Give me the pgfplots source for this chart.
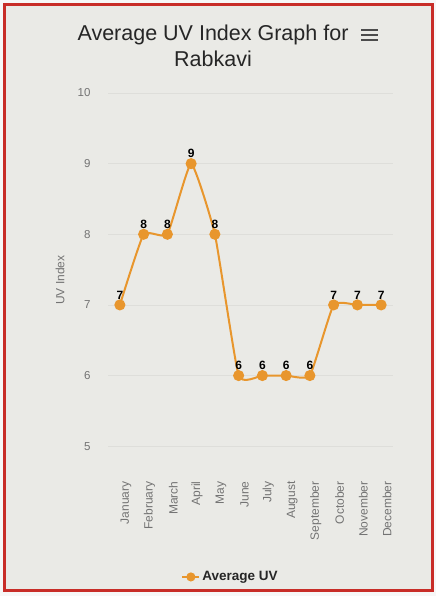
\documentclass[border=0pt]{standalone}
\usepackage{pgfplots}
\pgfplotsset{compat=1.18}
\usepackage{fontspec}
\setmainfont{Liberation Sans}

\definecolor{uvorange}{RGB}{232,150,45}
\definecolor{cardbg}{RGB}{234,234,230}
\definecolor{framered}{RGB}{200,45,40}
\definecolor{ticktext}{RGB}{115,115,115}
\definecolor{gridc}{RGB}{222,222,218}

\begin{document}
\begin{tikzpicture}[x=1pt,y=1pt]
% page and card
\fill[white!94!gray] (0,0) rectangle (436,596);
\filldraw[fill=cardbg, draw=framered, line width=3pt] (4,5) rectangle (432,591);

% title
\node[font=\fontsize{21.5}{24}\selectfont, text=black!85] at (213,561) {Average UV Index Graph for};
\node[font=\fontsize{21.5}{24}\selectfont, text=black!85] at (213,537) {Rabkavi};

% menu icon
\foreach \yy in {566,561,556}
  \draw[black!70, line width=2.2pt] (361,\yy) -- (378,\yy);

\begin{axis}[
    at={(108pt,118pt)}, anchor=south west,
    scale only axis, width=285pt, height=385pt,
    xmin=-0.5, xmax=11.5, ymin=4.55, ymax=10,
    ytick={5,...,10},
    xtick={0,...,11},
    xticklabels={January,February,March,April,May,June,July,August,September,October,November,December},
    axis line style={draw=none},
    major tick length=0pt,
    ymajorgrids, grid style={gridc, line width=0.8pt},
    /pgf/number format/assume math mode=true,
    tick label style={font=\fontsize{11.5}{13}\selectfont, text=ticktext},
    xticklabel style={rotate=90, anchor=east, yshift=-6pt, font=\fontsize{12}{13}\selectfont},
    yticklabel style={xshift=-14pt},
    ylabel={UV Index},
    ylabel style={at={(axis description cs:-0.168,0.514)}, anchor=center, font=\fontsize{12}{13}\selectfont, text=ticktext},
    legend style={at={(0.43,-0.257)}, anchor=center, draw=none, fill=none,
                  font=\bfseries\fontsize{13.5}{15}\selectfont, text=black!85},
    legend image post style={mark size=3.5pt},
    nodes near coords,
    nodes near coords style={font=\bfseries\fontsize{12}{13}\selectfont, text=black, anchor=south, yshift=1.5pt},
    clip=false,
]
\addplot[smooth, tension=0.25, color=uvorange, line width=2pt, mark=*, mark size=4.5pt,
         mark options={fill=uvorange, draw=uvorange}]
coordinates {
    (0,7) (1,8) (2,8) (3,9) (4,8) (5,6)
    (6,6) (7,6) (8,6) (9,7) (10,7) (11,7)
};
\addlegendentry{Average UV}
\end{axis}
\end{tikzpicture}
\end{document}
